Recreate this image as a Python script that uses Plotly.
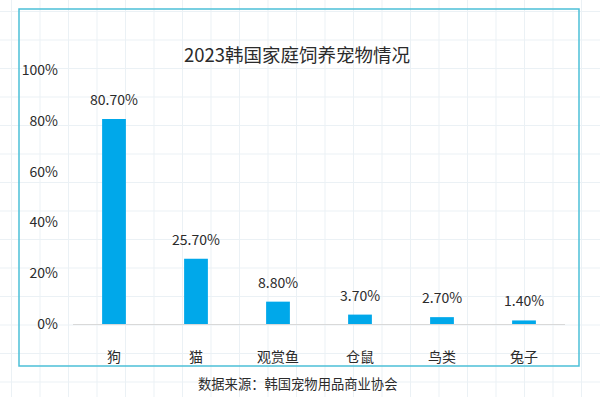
import plotly.graph_objects as go

categories = ["狗", "猫", "观赏鱼", "仓鼠", "鸟类", "兔子"]
values = [80.7, 25.7, 8.8, 3.7, 2.7, 1.4]
value_labels = ["80.70%", "25.70%", "8.80%", "3.70%", "2.70%", "1.40%"]
y_ticks = [0, 20, 40, 60, 80, 100]
y_tick_labels = ["0%", "20%", "40%", "60%", "80%", "100%"]
title_text = "2023韩国家庭饲养宠物情况"
source_text = "数据来源：韩国宠物用品商业协会"

W, H = 600, 397
L, R, T, B = 73, 35, 70, 73
pw, ph = W - L - R, H - T - B

def px(x):
    return (x - L) / pw

def py(y):
    return (H - B - y) / ph

FONT = "Noto Sans CJK SC"
BAR = "#00a8ea"
TXT = "#2b2b2b"

fig = go.Figure()
fig.add_trace(go.Bar(
    x=categories, y=values, marker=dict(color=BAR, line=dict(width=0)),
    hoverinfo="skip", showlegend=False,
))

shapes = []
# faint background grid
step = 28.5
g = 11.5
while g < W:
    shapes.append(dict(type="line", xref="paper", yref="paper", x0=px(g), x1=px(g),
                       y0=py(0), y1=py(H), line=dict(color="#ebf1f5", width=1), layer="below"))
    g += step
g = 11.5
while g < H:
    shapes.append(dict(type="line", xref="paper", yref="paper", x0=px(0), x1=px(W),
                       y0=py(g), y1=py(g), line=dict(color="#ebf1f5", width=1), layer="below"))
    g += step
# frame
shapes.append(dict(type="rect", xref="paper", yref="paper", x0=px(19), x1=px(579),
                   y0=py(366), y1=py(9), line=dict(color="#4cc0d8", width=1.5), layer="below"))

annotations = []
for c, v, t in zip(categories, values, value_labels):
    annotations.append(dict(x=c, y=v, xref="x", yref="y", text=t, showarrow=False,
                            yanchor="bottom", yshift=8,
                            font=dict(family=FONT, size=14, color=TXT)))
annotations.append(dict(x=px(297), y=py(54), xref="paper", yref="paper", text=title_text,
                        showarrow=False, xanchor="center", yanchor="middle",
                        font=dict(family=FONT, size=18.5, color=TXT)))
annotations.append(dict(x=px(297), y=py(383), xref="paper", yref="paper", text=source_text,
                        showarrow=False, xanchor="center", yanchor="middle",
                        font=dict(family=FONT, size=13.3, color=TXT)))

fig.update_layout(
    width=W, height=H,
    margin=dict(l=L, r=R, t=T, b=B),
    paper_bgcolor="white", plot_bgcolor="rgba(0,0,0,0)",
    bargap=0.71,
    shapes=shapes, annotations=annotations,
    xaxis=dict(showgrid=False, showline=True, linecolor="#d9d9d9", linewidth=1,
               ticks="", ticklabelstandoff=20,
               tickfont=dict(family=FONT, size=14, color=TXT)),
    yaxis=dict(range=[0, 100], showgrid=False, zeroline=False, showline=False,
               tickvals=y_ticks, ticktext=y_tick_labels, ticklabelstandoff=14,
               tickfont=dict(family=FONT, size=14, color=TXT)),
)

fig.write_html("out.html", config={"displayModeBar": False},
               post_script="document.body.style.margin='0';")
